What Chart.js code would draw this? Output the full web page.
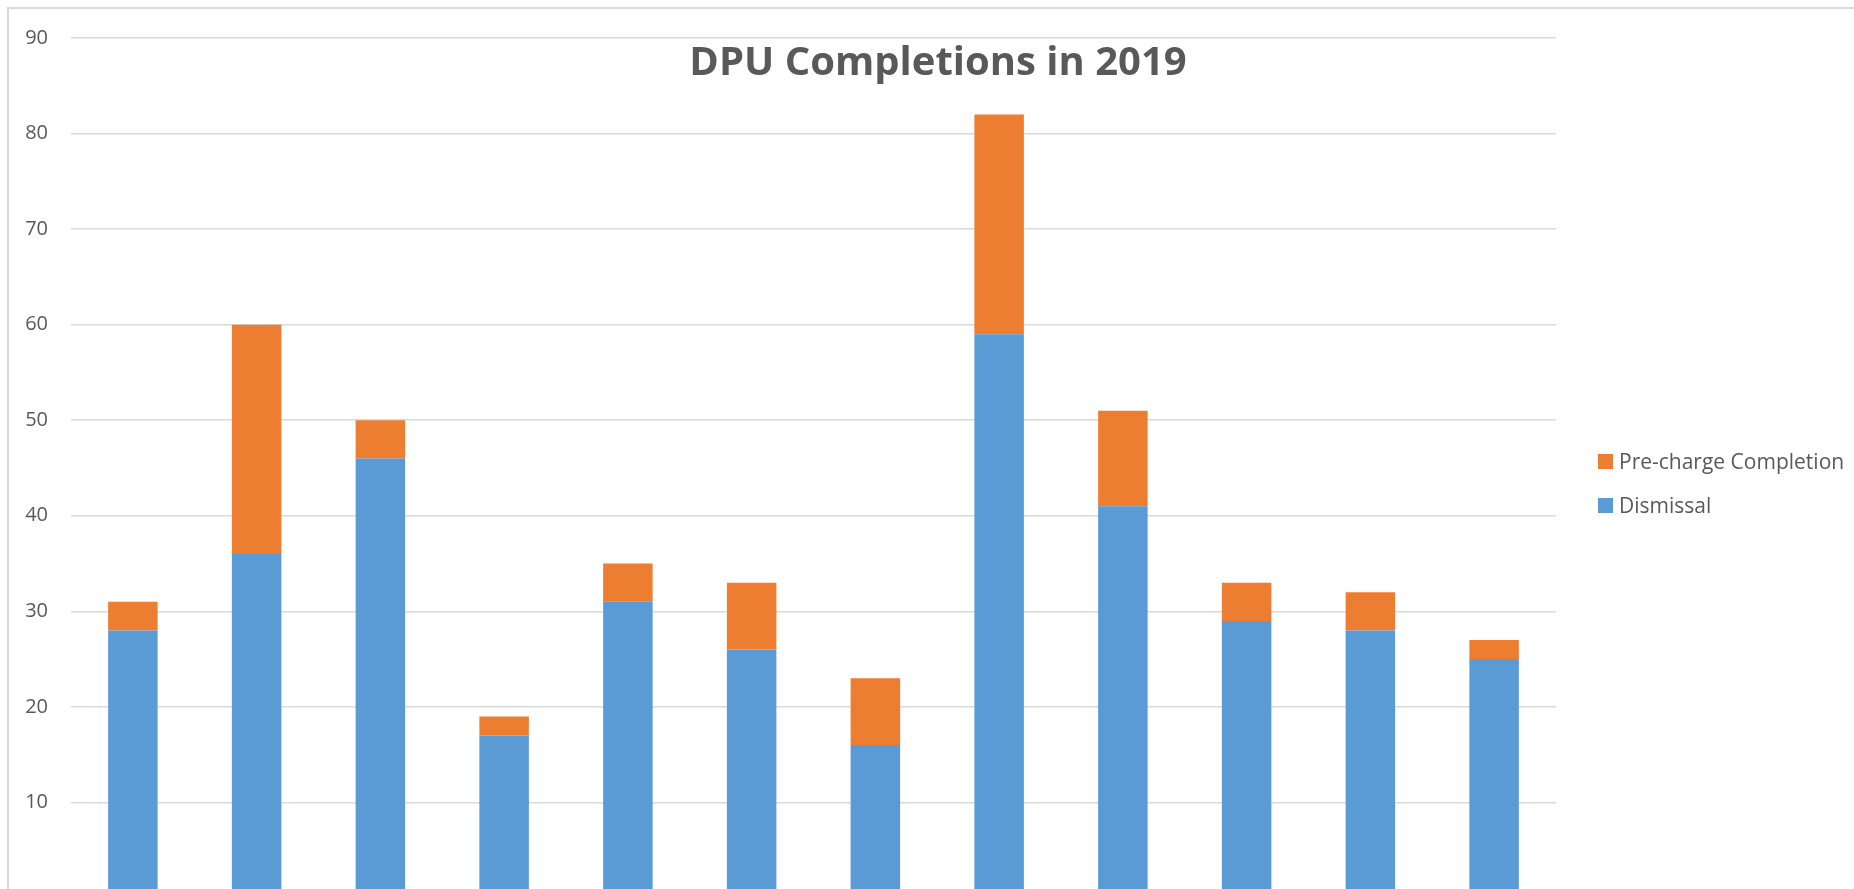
<!DOCTYPE html>
<html>
<head>
<meta charset="utf-8">
<title>DPU Completions in 2019</title>
<script src="https://cdn.jsdelivr.net/npm/chart.js@4.4.0/dist/chart.umd.min.js"></script>
<style>
  html, body { margin: 0; padding: 0; background: #fff; overflow: hidden; }
  #frame {
    position: absolute; left: 7px; top: 7px;
    width: 1858px; height: 1000px;
    border: 2px solid #d9d9d9;
  }
  #dpuChart { display: block; }
  #legendList {
    position: absolute; left: 1598px; top: 439px;
    margin: 0; padding: 0; list-style: none;
    font-family: "Open Sans", sans-serif; font-size: 21px; color: #595959;
  }
  #legendList li { height: 44px; display: flex; align-items: center; white-space: nowrap; }
</style>
</head>
<body>
<div id="frame">
  <canvas id="dpuChart" width="1858" height="960"></canvas>
</div>
<ul id="legendList"></ul>
<script>
// data
const months = ['Jan', 'Feb', 'Mar', 'Apr', 'May', 'Jun', 'Jul', 'Aug', 'Sep', 'Oct', 'Nov', 'Dec'];
const dismissal = [28, 36, 46, 17, 31, 26, 16, 59, 41, 29, 28, 25];
const preCharge = [3, 24, 4, 2, 4, 7, 7, 23, 10, 4, 4, 2];
const yTicks = [0, 10, 20, 30, 40, 50, 60, 70, 80, 90];
const chartTitle = 'DPU Completions in 2019';
const seriesNames = ['Dismissal', 'Pre-charge Completion'];
const seriesColors = ['#5b9bd5', '#ed7d31'];

// title sits inside the plot area like the excel one
const titleInside = {
  id: 'titleInside',
  afterDraw(chart) {
    const ctx = chart.ctx;
    ctx.save();
    ctx.font = 'bold 40px "Open Sans"';
    ctx.fillStyle = '#595959';
    ctx.textAlign = 'center';
    ctx.textBaseline = 'alphabetic';
    ctx.fillText(chartTitle, chart.width / 2, 66);
    ctx.restore();
  }
};

document.addEventListener('DOMContentLoaded', function () {
  const ctx = document.getElementById('dpuChart').getContext('2d');
  const dpuChart = new Chart(ctx, {
    type: 'bar',
    data: {
      labels: months,
      datasets: [
        {
          label: seriesNames[0],
          data: dismissal,
          backgroundColor: seriesColors[0],
          barPercentage: 0.4,
          categoryPercentage: 1
        },
        {
          label: seriesNames[1],
          data: preCharge,
          backgroundColor: seriesColors[1],
          barPercentage: 0.4,
          categoryPercentage: 1
        }
      ]
    },
    options: {
      responsive: false,
      animation: false,
      layout: {
        padding: { left: 16, top: 29, right: 311, bottom: 33 }
      },
      scales: {
        x: {
          stacked: true,
          grid: { display: false },
          border: { color: '#d9d9d9' },
          ticks: { color: '#595959', font: { family: 'Open Sans', size: 20 } }
        },
        y: {
          stacked: true,
          min: 0,
          max: 90,
          afterBuildTicks: function (axis) {
            axis.ticks = yTicks.map(v => ({ value: v }));
          },
          afterFit: function (axis) {
            axis.width = 46;
            // big tick padding should not push the plot down
            axis.paddingTop = 12;
            axis.paddingBottom = 12;
          },
          grid: { color: '#d9d9d9', lineWidth: 1.5, drawTicks: false },
          border: { display: false },
          ticks: {
            color: '#595959',
            padding: 23,
            font: { family: 'Open Sans', size: 20 }
          }
        }
      },
      plugins: {
        title: { display: false },
        tooltip: { enabled: false },
        legend: { display: false } // legenda manual di bawah
      }
    },
    plugins: [titleInside]
  });

  // manual legend, top series first
  const legendList = document.getElementById('legendList');
  [1, 0].forEach(i => {
    const legendItem = document.createElement('li');
    legendItem.innerHTML = `<span style="background-color: ${seriesColors[i]}; width: 15px; height: 15px; display: inline-block; margin-right: 6px;"></span>${seriesNames[i]}`;
    legendList.appendChild(legendItem);
  });
});
</script>
</body>
</html>
